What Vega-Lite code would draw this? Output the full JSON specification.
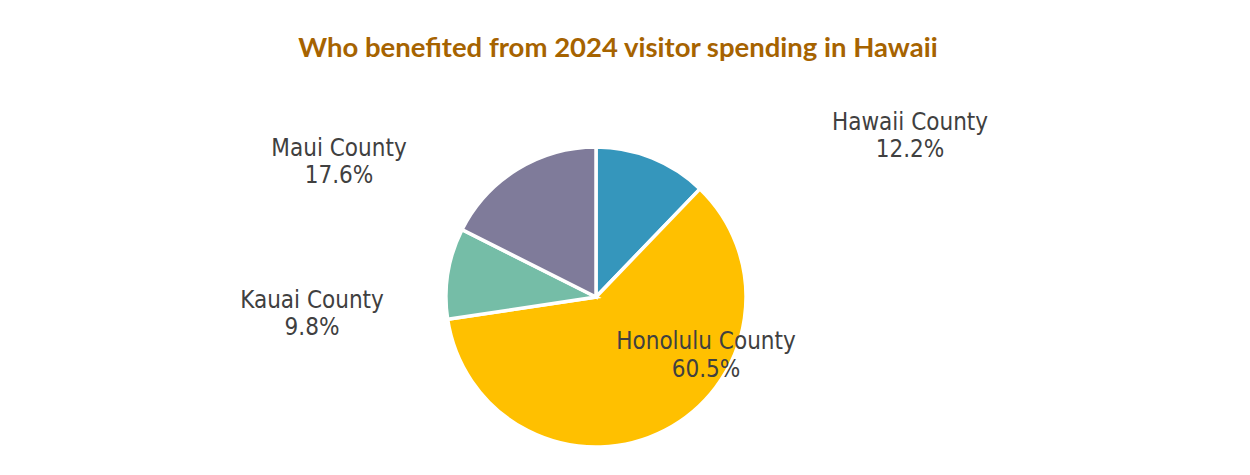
{
  "$schema": "https://vega.github.io/schema/vega-lite/v6.json",
  "autosize": {"type": "none"},
  "padding": {"left": 0, "top": 119, "right": 0, "bottom": 0},
  "width": 1192,
  "height": 356,
  "background": "white",
  "config": {"view": {"stroke": null}},
  "title": {
    "text": "Who benefited from 2024 visitor spending in Hawaii",
    "font": "Lato",
    "fontWeight": "bold",
    "fontSize": 27.5,
    "color": "#A66300",
    "anchor": "middle",
    "dx": 22,
    "baseline": "alphabetic",
    "offset": 27
  },
  "data": {
    "values": [
      {"county": "Hawaii County", "value": 12.2, "idx": 1},
      {"county": "Honolulu County", "value": 60.5, "idx": 2},
      {"county": "Kauai County", "value": 9.8, "idx": 3},
      {"county": "Maui County", "value": 17.6, "idx": 4}
    ]
  },
  "transform": [
    {"calculate": "datum.county + '\\n' + format(datum.value, '.1f') + '%'", "as": "label"}
  ],
  "layer": [
    {
      "mark": {"type": "arc", "outerRadius": 150, "stroke": "white", "strokeWidth": 3.5},
      "encoding": {
        "theta": {"field": "value", "type": "quantitative", "stack": true},
        "order": {"field": "idx", "type": "quantitative"},
        "color": {
          "field": "county",
          "type": "nominal",
          "scale": {
            "domain": ["Hawaii County", "Honolulu County", "Kauai County", "Maui County"],
            "range": ["#3596BC", "#FFC000", "#75BDA7", "#7F7B9A"]
          },
          "legend": null
        }
      }
    },
    {
      "transform": [{"filter": "datum.county === 'Hawaii County'"}],
      "mark": {"type": "text", "font": "DejaVu Sans Condensed", "fontSize": 24, "fill": "#404040", "lineBreak": "\n", "lineHeight": 27, "align": "center", "baseline": "middle", "dx": 314, "dy": -174},
      "encoding": {"text": {"field": "label"}}
    },
    {
      "transform": [{"filter": "datum.county === 'Honolulu County'"}],
      "mark": {"type": "text", "font": "DejaVu Sans Condensed", "fontSize": 24, "fill": "#404040", "lineBreak": "\n", "lineHeight": 28, "align": "center", "baseline": "middle", "dx": 110, "dy": 45},
      "encoding": {"text": {"field": "label"}}
    },
    {
      "transform": [{"filter": "datum.county === 'Kauai County'"}],
      "mark": {"type": "text", "font": "DejaVu Sans Condensed", "fontSize": 24, "fill": "#404040", "lineBreak": "\n", "lineHeight": 27, "align": "center", "baseline": "middle", "dx": -284, "dy": 4},
      "encoding": {"text": {"field": "label"}}
    },
    {
      "transform": [{"filter": "datum.county === 'Maui County'"}],
      "mark": {"type": "text", "font": "DejaVu Sans Condensed", "fontSize": 24, "fill": "#404040", "lineBreak": "\n", "lineHeight": 27, "align": "center", "baseline": "middle", "dx": -257, "dy": -148},
      "encoding": {"text": {"field": "label"}}
    }
  ]
}
